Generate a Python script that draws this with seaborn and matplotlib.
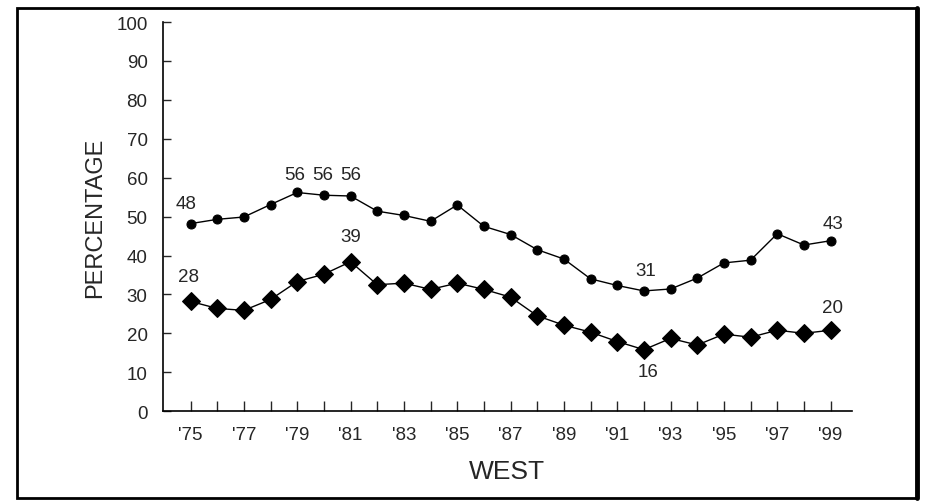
import matplotlib
matplotlib.use("Agg")
import matplotlib.pyplot as plt
import pandas as pd
import seaborn as sns
from matplotlib.patches import Rectangle

years = list(range(1975, 2000))
tick_labels = ["'%02d" % (y % 100) if y % 2 == 1 else "" for y in years]

# upper series (circles)
upper = [48.2, 49.3, 49.9, 53.1, 56.2, 55.5, 55.3, 51.4, 50.3, 48.8, 53.0, 47.5, 45.4,
         41.5, 39.1, 34.0, 32.3, 30.9, 31.4, 34.2, 38.1, 38.8, 45.6, 42.7, 43.8]
# lower series (diamonds)
lower = [28.2, 26.4, 25.9, 28.7, 33.3, 35.2, 38.4, 32.5, 32.9, 31.3, 32.9, 31.3, 29.3,
         24.5, 22.1, 20.3, 17.9, 15.8, 18.7, 17.0, 19.8, 19.0, 20.8, 20.0, 20.8]

# point labels: (year, text, dx px, dy px)
upper_labels = [(1975, "48", -4, 20), (1979, "56", -3, 18), (1980, "56", -1, 21),
                (1981, "56", 0, 21), (1992, "31", 2, 20), (1999, "43", 2, 17)]
lower_labels = [(1975, "28", -2, 25), (1981, "39", 0, 25), (1992, "16", 4, -22),
                (1999, "20", 2, 23)]

sns.set_style("ticks")
plt.rcParams["font.family"] = ["Liberation Sans", "DejaVu Sans"]

df = pd.DataFrame({"year": years, "upper": upper, "lower": lower})

fig = plt.figure(figsize=(9.25, 5.02), dpi=100)
ax = fig.add_axes([0.176, 0.179, 0.745, 0.775])

sns.lineplot(data=df, x="year", y="upper", ax=ax, color="black", linewidth=1,
             marker="o", markersize=6.5, markeredgecolor="black")
sns.lineplot(data=df, x="year", y="lower", ax=ax, color="black", linewidth=1,
             marker="D", markersize=9.5, markeredgecolor="black")

for yr, txt, dx, dy in upper_labels:
    ax.annotate(txt, (yr, upper[years.index(yr)]), xytext=(dx, dy),
                textcoords="offset pixels", ha="center", va="center", fontsize=13.5)
for yr, txt, dx, dy in lower_labels:
    ax.annotate(txt, (yr, lower[years.index(yr)]), xytext=(dx, dy),
                textcoords="offset pixels", ha="center", va="center", fontsize=13.5)

ax.set_xlim(1973.96, 1999.8)
ax.set_ylim(0, 100)
ax.set_yticks(range(0, 101, 10))
ax.set_xticks(years)
ax.set_xticklabels(tick_labels)
ax.tick_params(axis="y", direction="in", length=6, width=1, pad=11, labelsize=13.5)
ax.tick_params(axis="x", direction="in", length=7, width=1, pad=11, labelsize=13.5)
sns.despine(ax=ax)
for s in ("left", "bottom"):
    ax.spines[s].set_linewidth(1.2)
    ax.spines[s].set_color("black")

ax.set_xlabel("WEST", fontsize=19, labelpad=11)
ax.set_ylabel("PERCENTAGE", fontsize=17, labelpad=7)

# outer frame
fig.patches.append(Rectangle((17 / 925, 3 / 502), 900 / 925, 490 / 502, transform=fig.transFigure,
                             fill=False, edgecolor="black", linewidth=2))
fig.add_artist(plt.Line2D([917 / 925, 917 / 925], [3 / 502, 493 / 502],
                          transform=fig.transFigure, color="black", linewidth=3.5))

fig.savefig("out.png", dpi=100)
